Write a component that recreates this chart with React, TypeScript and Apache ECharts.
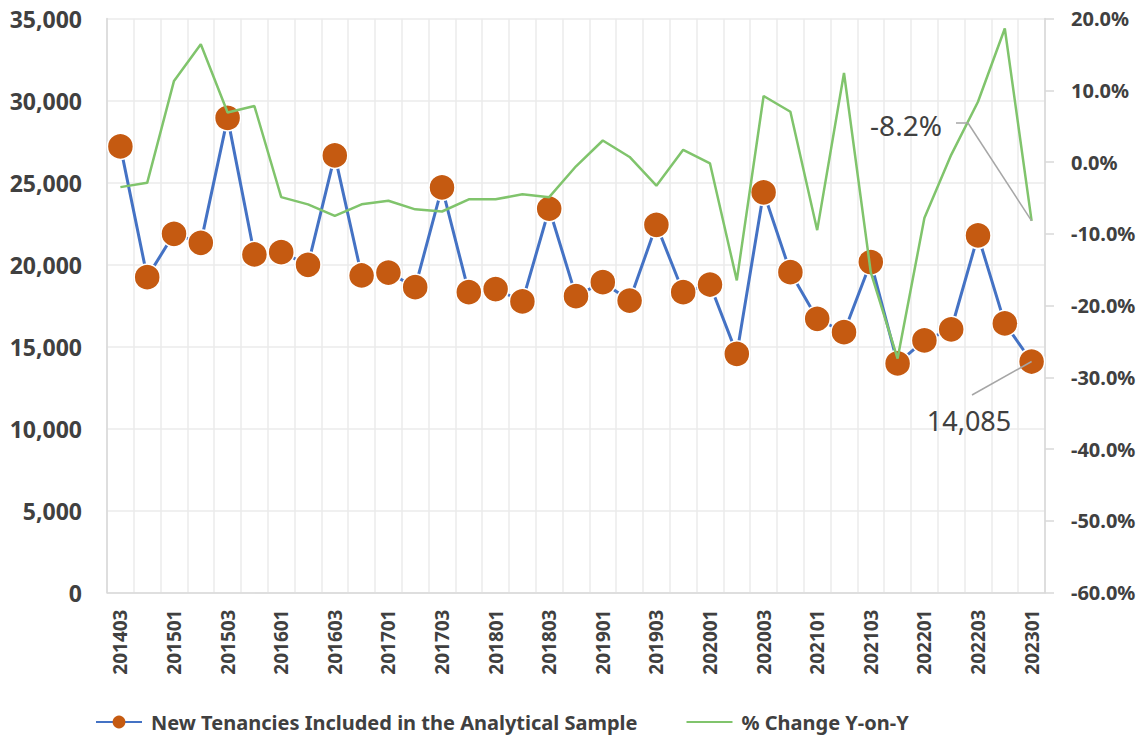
import React, { useEffect, useRef } from "react";
import * as echarts from "echarts";

const quarters = [
  "201403", "201404",
  "201501", "201502", "201503", "201504",
  "201601", "201602", "201603", "201604",
  "201701", "201702", "201703", "201704",
  "201801", "201802", "201803", "201804",
  "201901", "201902", "201903", "201904",
  "202001", "202002", "202003", "202004",
  "202101", "202102", "202103", "202104",
  "202201", "202202", "202203", "202204",
  "202301",
];

const newTenancies = [
  27200, 19230,
  21870, 21320, 28940, 20610,
  20750, 19980, 26650, 19330,
  19510, 18620, 24700, 18310,
  18500, 17750, 23400, 18070,
  18920, 17800, 22420, 18310,
  18780, 14550, 24400, 19530,
  16690, 15870, 20150, 13970,
  15370, 16050, 21770, 16410,
  14085,
];

const pctChange = [
  -3.5, -2.9,
  11.3, 16.4, 6.9, 7.8,
  -4.9, -5.9, -7.5, -5.9,
  -5.4, -6.6, -6.9, -5.2,
  -5.2, -4.5, -4.9, -0.6,
  3.0, 0.7, -3.3, 1.7,
  -0.2, -16.5, 9.2, 7.0,
  -9.5, 12.4, -15.4, -27.4,
  -7.8, 1.0, 8.4, 18.6,
  -8.2,
];

const seriesNames = ["New Tenancies Included in the Analytical Sample", "% Change Y-on-Y"];

const FONT = "'Noto Sans', sans-serif";
const TEXT = "#404040";
const LEADER = "#a6a6a6";

export default function App() {
  const ref = useRef<HTMLDivElement>(null);

  useEffect(() => {
    if (!ref.current) return;
    const chart = echarts.init(ref.current, null, { renderer: "svg" });
    const last = quarters.length - 1;

    const annotationLabel = (fmt: (v: number) => string, size: number) => ({
      show: true,
      formatter: (p: any) => fmt(Number(p.value)),
      fontSize: size,
      color: TEXT,
      fontFamily: FONT,
      fontWeight: "normal",
    });

    const blueData = newTenancies.map((v, i) =>
      i === last ? { value: v, label: annotationLabel((x) => x.toLocaleString("en-US"), 27) } : v
    );
    const greenData = pctChange.map((v, i) =>
      i === last ? { value: v, label: annotationLabel((x) => x.toFixed(1) + "%", 28) } : v
    );

    const leaderStyle = { color: LEADER, width: 1.5, type: "solid" };

    chart.setOption({
      animation: false,
      textStyle: { fontFamily: FONT },
      grid: { left: 107, right: 98, top: 18.5, bottom: 147.5, containLabel: false },
      legend: {
        bottom: 3,
        left: 90,
        itemGap: 48,
        itemWidth: 46,
        itemHeight: 16,
        textStyle: { fontSize: 20, fontWeight: "bold", color: TEXT, fontFamily: FONT, padding: [0, 0, 0, 4] },
        data: [
          { name: seriesNames[0], itemStyle: { borderWidth: 0 } },
          { name: seriesNames[1], itemStyle: { opacity: 0 } },
        ],
      },
      xAxis: {
        type: "category",
        data: quarters,
        boundaryGap: true,
        axisLine: { show: true, lineStyle: { color: "#d9d9d9", width: 1.5 } },
        axisTick: { show: false },
        axisLabel: {
          interval: 1,
          rotate: 90,
          margin: 17,
          fontSize: 19,
          fontWeight: "bold",
          color: TEXT,
          fontFamily: FONT,
        },
        splitLine: { show: true, interval: 0, lineStyle: { color: "#ebebeb", width: 1.5 } },
      },
      yAxis: [
        {
          type: "value",
          min: 0,
          max: 35000,
          interval: 5000,
          axisLine: { show: true, lineStyle: { color: "#d9d9d9", width: 1.5 } },
          axisTick: { show: false },
          axisLabel: {
            margin: 25,
            fontSize: 23,
            fontWeight: "bold",
            color: TEXT,
            fontFamily: FONT,
            formatter: (v: number) => v.toLocaleString("en-US"),
          },
          splitLine: { show: true, lineStyle: { color: "#ebebeb", width: 1.5 } },
        },
        {
          type: "value",
          min: -60,
          max: 20,
          interval: 10,
          axisLine: { show: true, lineStyle: { color: "#d9d9d9", width: 1.5 } },
          axisTick: { show: true, inside: false, length: 9, lineStyle: { color: "#d9d9d9", width: 1.5 } },
          axisLabel: {
            margin: 26,
            fontSize: 20,
            fontWeight: "bold",
            color: TEXT,
            fontFamily: FONT,
            formatter: (v: number) => v.toFixed(1) + "%",
          },
          splitLine: { show: false },
        },
      ],
      series: [
        {
          name: seriesNames[0],
          type: "line",
          yAxisIndex: 0,
          data: blueData,
          lineStyle: { color: "#4472c4", width: 3 },
          itemStyle: { color: "#c55a11", borderColor: "#ffffff", borderWidth: 1.5 },
          symbol: "circle",
          symbolSize: 26,
          showSymbol: true,
          showAllSymbol: true,
          z: 2,
          labelLayout: (p: any) =>
            p.dataIndex === last ? { x: 969, y: 420, align: "center", verticalAlign: "middle" } : {},
          markLine: {
            silent: true,
            symbol: "none",
            label: { show: false },
            lineStyle: leaderStyle,
            data: [[{ coord: [last, newTenancies[last]] }, { x: 972, y: 395 }]],
          },
        },
        {
          name: seriesNames[1],
          type: "line",
          yAxisIndex: 1,
          data: greenData,
          lineStyle: { color: "#80c46c", width: 2.5 },
          itemStyle: { color: "#80c46c" },
          symbol: "circle",
          symbolSize: 0,
          showSymbol: true,
          showAllSymbol: true,
          z: 3,
          labelLayout: (p: any) =>
            p.dataIndex === last ? { x: 906, y: 125, align: "center", verticalAlign: "middle" } : {},
          markLine: {
            silent: true,
            symbol: "none",
            label: { show: false },
            lineStyle: leaderStyle,
            data: [
              [{ coord: [last, pctChange[last]] }, { x: 968, y: 123 }],
              [{ x: 968, y: 123 }, { x: 956, y: 123 }],
            ],
          },
        },
      ],
    });

    return () => chart.dispose();
  }, []);

  return (
    <div
      ref={ref}
      style={{ position: "fixed", left: 0, top: 0, width: 1143, height: 740, background: "#ffffff" }}
    />
  );
}
